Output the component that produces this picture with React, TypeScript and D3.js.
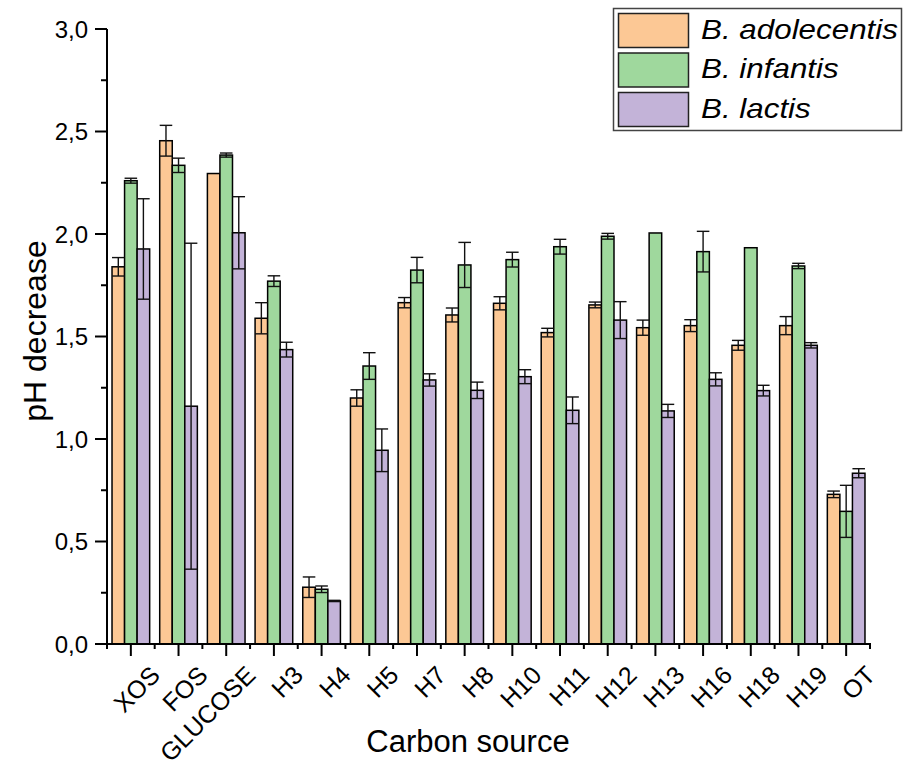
import * as d3 from 'd3';

const categories = ["XOS", "FOS", "GLUCOSE", "H3", "H4", "H5", "H7", "H8", "H10", "H11", "H12", "H13", "H16", "H18", "H19", "OT"];
const seriesNames = ["B. adolecentis", "B. infantis", "B. lactis"];
const seriesColors = ["#FCC895", "#9FD89D", "#C3B3D8"];

const adolecentis = [1.84, 2.455, 2.295, 1.589, 0.277, 1.2, 1.665, 1.605, 1.662, 1.519, 1.654, 1.543, 1.553, 1.457, 1.553, 0.73];
const adolecentisErr = [0.045, 0.075, 0, 0.076, 0.05, 0.04, 0.025, 0.034, 0.032, 0.021, 0.014, 0.037, 0.029, 0.024, 0.044, 0.016];
const infantis = [2.26, 2.335, 2.385, 1.77, 0.267, 1.356, 1.824, 1.849, 1.875, 1.938, 1.989, 2.005, 1.914, 1.933, 1.844, 0.647];
const infantisErr = [0.012, 0.035, 0.01, 0.026, 0.016, 0.065, 0.062, 0.11, 0.036, 0.036, 0.014, 0, 0.099, 0, 0.013, 0.127];
const lactis = [1.927, 1.16, 2.006, 1.436, 0.21, 0.945, 1.288, 1.2375, 1.304, 1.14, 1.58, 1.137, 1.291, 1.236, 1.457, 0.833];
const lactisErr = [0.245, 0.795, 0.176, 0.036, 0.003, 0.104, 0.03, 0.04, 0.034, 0.065, 0.09, 0.032, 0.032, 0.026, 0.013, 0.022];

const yTicks = [0, 0.5, 1, 1.5, 2, 2.5, 3];
const yMinor = [0.25, 0.75, 1.25, 1.75, 2.25, 2.75];

const W = 903, H = 771;
const font = "Liberation Sans, Arial, sans-serif";

export default function App() {
  const x = d3.scaleBand().domain(categories).range([107, 870]).padding(0);
  const sub = d3.scaleBand().domain(seriesNames).range([0, x.bandwidth()]).paddingInner(0).paddingOuter(0.4);
  const y = d3.scaleLinear().domain([0, 3]).range([644, 29]);
  const fmt = (v) => d3.format(".1f")(v).replace(".", ",");

  const series = [
    { name: seriesNames[0], color: seriesColors[0], vals: adolecentis, errs: adolecentisErr },
    { name: seriesNames[1], color: seriesColors[1], vals: infantis, errs: infantisErr },
    { name: seriesNames[2], color: seriesColors[2], vals: lactis, errs: lactisErr },
  ];
  const bw = sub.bandwidth();
  const bounds = categories.map((c) => x(c)).concat([870]);

  return (
    <svg width={W} height={H} style={{ position: "absolute", left: 0, top: 0, background: "#fff" }} fontFamily={font}>
      {/* bars */}
      {series.map((s) => (
        <g key={s.name}>
          {categories.map((c, i) => (
            <rect key={c} x={x(c) + sub(s.name)} y={y(s.vals[i])} width={bw} height={y(0) - y(s.vals[i])}
              fill={s.color} stroke="#000" strokeWidth={1.5} />
          ))}
        </g>
      ))}
      {/* error bars */}
      {series.map((s) => (
        <g key={s.name + "e"} stroke="#111" strokeWidth={1.4}>
          {categories.map((c, i) => {
            if (!s.errs[i]) return null;
            const cx = x(c) + sub(s.name) + bw / 2;
            const hi = y(s.vals[i] + s.errs[i]);
            const lo = y(s.vals[i] - s.errs[i]);
            return (
              <g key={c}>
                <line x1={cx} x2={cx} y1={hi} y2={lo} />
                <line x1={cx - bw / 2} x2={cx + bw / 2} y1={hi} y2={hi} />
                <line x1={cx - bw / 2} x2={cx + bw / 2} y1={lo} y2={lo} />
              </g>
            );
          })}
        </g>
      ))}
      {/* y axis */}
      <g stroke="#000" strokeWidth={2}>
        <line x1={107} x2={107} y1={y(3)} y2={y(0) + 1} />
        {yTicks.map((t) => <line key={t} x1={95} x2={107} y1={y(t)} y2={y(t)} />)}
        {yMinor.map((t) => <line key={t} x1={101} x2={107} y1={y(t)} y2={y(t)} />)}
      </g>
      <g fontSize={24} textAnchor="end">
        {yTicks.map((t) => <text key={t} x={88} y={y(t)} dy="0.36em">{fmt(t)}</text>)}
      </g>
      {/* x axis */}
      <g stroke="#000" strokeWidth={2}>
        <line x1={106} x2={871} y1={644} y2={644} />
        {categories.map((c) => <line key={c} x1={x(c) + x.bandwidth() / 2} x2={x(c) + x.bandwidth() / 2} y1={644} y2={656} />)}
        {bounds.map((b, i) => <line key={i} x1={b} x2={b} y1={644} y2={649} />)}
      </g>
      <g fontSize={25} textAnchor="end">
        {categories.map((c) => {
          const cx = x(c) + x.bandwidth() / 2;
          return <text key={c} transform={`translate(${cx + 18},${664}) rotate(-45)`} dy="0.72em">{c}</text>;
        })}
      </g>
      <text x={468} y={752} fontSize={31} textAnchor="middle">Carbon source</text>
      <text transform="translate(46,331) rotate(-90)" fontSize={32} textAnchor="middle">pH decrease</text>
      {/* legend */}
      <rect x={613.5} y={8.5} width={288} height={122} fill="#fff" stroke="#444" strokeWidth={1.5} />
      {series.map((s, i) => (
        <g key={s.name + "l"}>
          <rect x={618.5} y={13.5 + i * 39.5} width={70} height={34} fill={s.color} stroke="#222" strokeWidth={1.5} />
          <text transform={`translate(701,${38.5 + i * 39.5}) scale(1.12,1)`} fontSize={28} fontStyle="italic">{s.name}</text>
        </g>
      ))}
    </svg>
  );
}
